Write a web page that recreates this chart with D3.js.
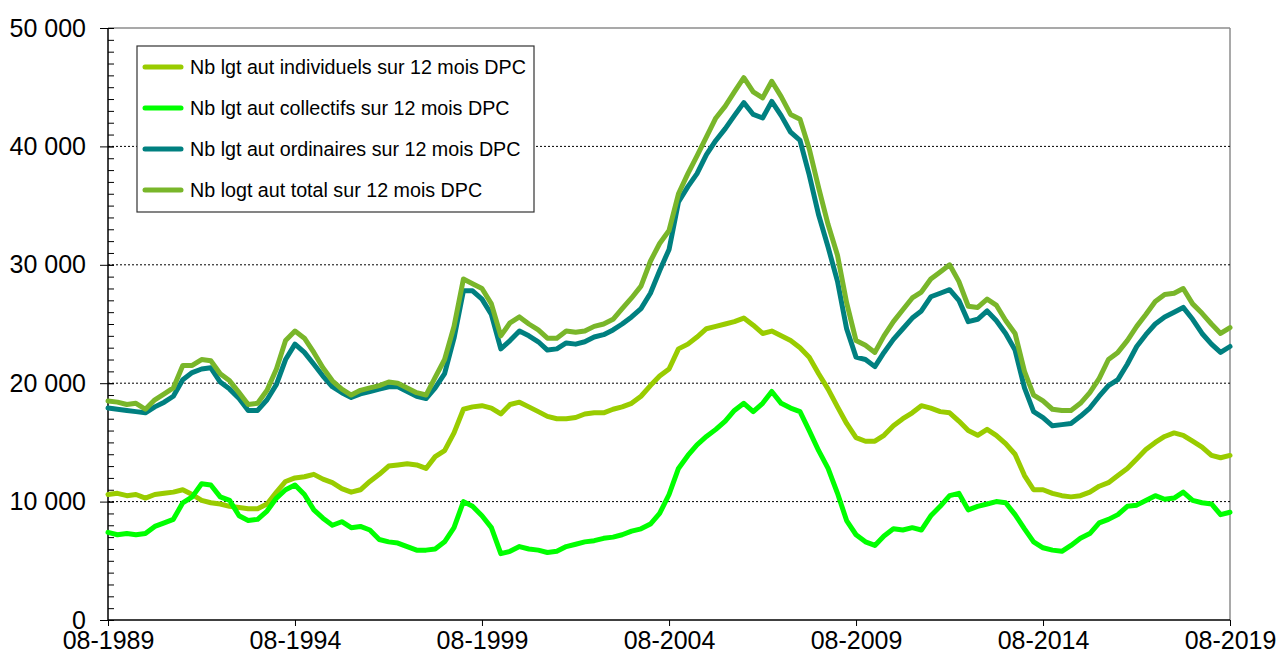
<!DOCTYPE html>
<html>
<head>
<meta charset="utf-8">
<title>Logements autorisés</title>
<style>
  body { margin: 0; background: #fff; }
  svg { display: block; font-family: "Liberation Sans", Arial, sans-serif; }
  .grid line { stroke: #000; stroke-width: 1; stroke-dasharray: 2,2; }
  .axis path { display: none; }
  .axis line { stroke: #000; }
  .axis text { font-size: 25px; fill: #000; }
  .series { fill: none; stroke-width: 5; stroke-linejoin: round; stroke-linecap: round; }
  .legend text { font-size: 19.7px; fill: #000; }
</style>
</head>
<body>
<svg width="1279" height="652"></svg>
<script src="https://cdn.jsdelivr.net/npm/d3@7"></script>
<script>
  // quarterly readings, Aug 1989 .. Aug 2019 (thousands of dwellings)
  var individuels = [10.6, 10.7, 10.5, 10.6, 10.3, 10.6, 10.7, 10.8, 11.0, 10.6, 10.1, 9.9, 9.8, 9.6, 9.5, 9.4, 9.4, 9.8, 10.8, 11.7,
    12.0, 12.1, 12.3, 11.9, 11.6, 11.1, 10.8, 11.0, 11.7, 12.3, 13.0, 13.1, 13.2, 13.1, 12.8, 13.8, 14.3, 15.8, 17.8, 18.0,
    18.1, 17.9, 17.4, 18.2, 18.4, 18.0, 17.6, 17.2, 17.0, 17.0, 17.1, 17.4, 17.5, 17.5, 17.8, 18.0, 18.3, 18.9, 19.8, 20.6,
    21.2, 22.9, 23.3, 23.9, 24.6, 24.8, 25.0, 25.2, 25.5, 24.9, 24.2, 24.4, 24.0, 23.6, 23.0, 22.2, 20.8, 19.5, 18.0, 16.6,
    15.4, 15.1, 15.1, 15.6, 16.4, 17.0, 17.5, 18.1, 17.9, 17.6, 17.5, 16.8, 16.0, 15.6, 16.1, 15.6, 14.9, 14.0, 12.2, 11.0,
    11.0, 10.7, 10.5, 10.4, 10.5, 10.8, 11.3, 11.6, 12.2, 12.8, 13.6, 14.4, 15.0, 15.5, 15.8, 15.6, 15.1, 14.6, 13.9, 13.7,
    13.9];
  var collectifs = [7.4, 7.2, 7.3, 7.2, 7.3, 7.9, 8.2, 8.5, 9.9, 10.4, 11.5, 11.4, 10.4, 10.1, 8.8, 8.4, 8.5, 9.2, 10.3, 11.0,
    11.4, 10.6, 9.3, 8.6, 8.0, 8.3, 7.8, 7.9, 7.6, 6.8, 6.6, 6.5, 6.2, 5.9, 5.9, 6.0, 6.6, 7.8, 10.0, 9.6,
    8.8, 7.8, 5.6, 5.8, 6.2, 6.0, 5.9, 5.7, 5.8, 6.2, 6.4, 6.6, 6.7, 6.9, 7.0, 7.2, 7.5, 7.7, 8.1, 9.0,
    10.6, 12.8, 13.9, 14.8, 15.5, 16.1, 16.8, 17.7, 18.3, 17.6, 18.3, 19.3, 18.3, 17.9, 17.6, 16.0, 14.3, 12.8, 10.7, 8.4,
    7.2, 6.6, 6.3, 7.1, 7.7, 7.6, 7.8, 7.6, 8.8, 9.6, 10.5, 10.7, 9.3, 9.6, 9.8, 10.0, 9.9, 8.9, 7.7, 6.6,
    6.1, 5.9, 5.8, 6.3, 6.9, 7.3, 8.2, 8.5, 8.9, 9.6, 9.7, 10.1, 10.5, 10.2, 10.3, 10.8, 10.1, 9.9, 9.8, 8.9,
    9.1];
  var ordinaires = [17.9, 17.8, 17.7, 17.6, 17.5, 18.0, 18.4, 18.9, 20.3, 20.9, 21.2, 21.3, 20.1, 19.5, 18.7, 17.7, 17.7, 18.6, 19.9, 22.0,
    23.3, 22.6, 21.6, 20.6, 19.7, 19.2, 18.8, 19.1, 19.3, 19.5, 19.7, 19.7, 19.3, 18.9, 18.7, 19.6, 20.8, 23.8, 27.8, 27.8,
    27.1, 25.8, 22.9, 23.6, 24.4, 24.0, 23.5, 22.8, 22.9, 23.4, 23.3, 23.5, 23.9, 24.1, 24.5, 25.0, 25.6, 26.3, 27.6, 29.5,
    31.3, 35.3, 36.6, 37.7, 39.3, 40.5, 41.5, 42.6, 43.7, 42.7, 42.4, 43.8, 42.6, 41.2, 40.5, 37.6, 34.2, 31.5, 28.6, 24.6,
    22.2, 22.0, 21.4, 22.6, 23.7, 24.6, 25.5, 26.1, 27.3, 27.6, 27.9, 27.0, 25.2, 25.4, 26.1, 25.3, 24.2, 22.8, 19.6, 17.6,
    17.1, 16.4, 16.5, 16.6, 17.2, 17.9, 18.9, 19.8, 20.3, 21.6, 23.1, 24.1, 25.0, 25.6, 26.0, 26.4, 25.4, 24.2, 23.3, 22.6,
    23.1];
  var total = [18.5, 18.4, 18.2, 18.3, 17.8, 18.6, 19.1, 19.6, 21.5, 21.5, 22.0, 21.9, 20.8, 20.2, 19.2, 18.2, 18.3, 19.4, 21.2, 23.6,
    24.4, 23.8, 22.6, 21.3, 20.2, 19.5, 19.0, 19.4, 19.6, 19.8, 20.1, 20.0, 19.6, 19.2, 19.0, 20.5, 22.0, 24.8, 28.8, 28.4,
    28.0, 26.7, 24.0, 25.1, 25.6, 25.0, 24.5, 23.8, 23.8, 24.4, 24.3, 24.4, 24.8, 25.0, 25.4, 26.3, 27.2, 28.2, 30.3, 31.8,
    32.9, 36.0, 37.7, 39.2, 40.8, 42.4, 43.4, 44.6, 45.8, 44.6, 44.1, 45.5, 44.2, 42.7, 42.3, 39.8, 36.5, 33.4, 30.8, 26.8,
    23.6, 23.2, 22.6, 24.0, 25.2, 26.2, 27.2, 27.7, 28.8, 29.4, 30.0, 28.6, 26.5, 26.4, 27.1, 26.6, 25.3, 24.2, 21.0, 19.0,
    18.5, 17.8, 17.7, 17.7, 18.3, 19.2, 20.4, 22.0, 22.6, 23.6, 24.8, 25.8, 26.9, 27.5, 27.6, 28.0, 26.7, 25.9, 25.0, 24.2,
    24.7];

  var seriesNames = ["Nb lgt aut individuels sur 12 mois DPC", "Nb lgt aut collectifs sur 12 mois DPC",
    "Nb lgt aut ordinaires sur 12 mois DPC", "Nb logt aut total sur 12 mois DPC"];
  var seriesColors = ["#99cc00", "#00ff00", "#008080", "#79b62a"];
  var xTickLabels = ["08-1989", "08-1994", "08-1999", "08-2004", "08-2009", "08-2014", "08-2019"];
  var yTicks = [0, 10000, 20000, 30000, 40000, 50000];

  var svg = d3.select("svg"),
    margin = { top: 28, right: 49, bottom: 32, left: 108 },
    width = +svg.attr("width") - margin.left - margin.right,
    height = +svg.attr("height") - margin.top - margin.bottom;

  var parseLabel = d3.timeParse("%m-%Y");
  var start = parseLabel(xTickLabels[0]),
    end = parseLabel(xTickLabels[xTickLabels.length - 1]);
  var dates = d3.timeMonth.range(start, d3.timeMonth.offset(end, 1), 3);

  var x = d3.scaleTime().domain([start, end]).range([0, width]),
    y = d3.scaleLinear().domain([0, 50000]).range([height, 0]);

  var g = svg.append("g")
    .attr("transform", "translate(" + margin.left + "," + margin.top + ")");

  // frame (top + right in grey)
  g.append("line").attr("x1", 0).attr("x2", width).attr("y1", 0).attr("y2", 0)
    .attr("stroke", "#8c8c8c").attr("stroke-width", 1.5);
  g.append("line").attr("x1", width).attr("x2", width).attr("y1", 0).attr("y2", height)
    .attr("stroke", "#8c8c8c").attr("stroke-width", 1.5);

  g.append("g").attr("class", "grid")
    .selectAll("line")
    .data(yTicks.filter(function(d) { return d > 0 && d < 50000; }))
    .enter().append("line")
    .attr("x1", 0).attr("x2", width)
    .attr("y1", function(d) { return y(d); })
    .attr("y2", function(d) { return y(d); });

  var fmt = function(d) { return d3.format(",")(d).replace(/,/g, " "); };

  // minor ticks, inside
  g.append("g").attr("class", "axis")
    .call(d3.axisLeft(y).tickValues(d3.range(0, 50001, 1000)).tickSize(-6).tickFormat(""));
  // major ticks, crossing
  g.append("g").attr("class", "axis axis--y")
    .call(d3.axisLeft(y).tickValues(yTicks).tickSize(8).tickPadding(14).tickFormat(fmt))
    .selectAll(".tick line").attr("x2", -8).attr("x1", 6);

  g.append("g").attr("class", "axis axis--x")
    .attr("transform", "translate(0," + height + ")")
    .call(d3.axisBottom(x).tickValues(xTickLabels.map(parseLabel)).tickSize(6).tickPadding(5)
      .tickFormat(d3.timeFormat("%m-%Y")));

  // axis lines
  g.append("line").attr("x1", 0).attr("x2", 0).attr("y1", 0).attr("y2", height)
    .attr("stroke", "#000").attr("stroke-width", 1.5);
  g.append("line").attr("x1", 0).attr("x2", width).attr("y1", height).attr("y2", height)
    .attr("stroke", "#000").attr("stroke-width", 1.5);

  var line = d3.line()
    .x(function(d, i) { return x(dates[i]); })
    .y(function(d) { return y(d * 1000); });

  var allSeries = [individuels, collectifs, ordinaires, total];
  g.selectAll(".series")
    .data(allSeries)
    .enter().append("path")
    .attr("class", "series")
    .attr("stroke", function(d, i) { return seriesColors[i]; })
    .attr("d", line);

  // legend
  var legend = svg.append("g").attr("class", "legend").attr("transform", "translate(137,46)");
  legend.append("rect").attr("width", 397).attr("height", 166)
    .attr("fill", "#fff").attr("stroke", "#333").attr("stroke-width", 1.2);
  var item = legend.selectAll(".item")
    .data(seriesNames)
    .enter().append("g")
    .attr("class", "item")
    .attr("transform", function(d, i) { return "translate(0," + (21 + i * 41) + ")"; });
  item.append("line")
    .attr("x1", 8).attr("x2", 44)
    .attr("stroke", function(d, i) { return seriesColors[i]; })
    .attr("stroke-width", 5).attr("stroke-linecap", "round");
  item.append("text")
    .attr("x", 53).attr("dy", "0.35em")
    .text(function(d) { return d; });
</script>
</body>
</html>
